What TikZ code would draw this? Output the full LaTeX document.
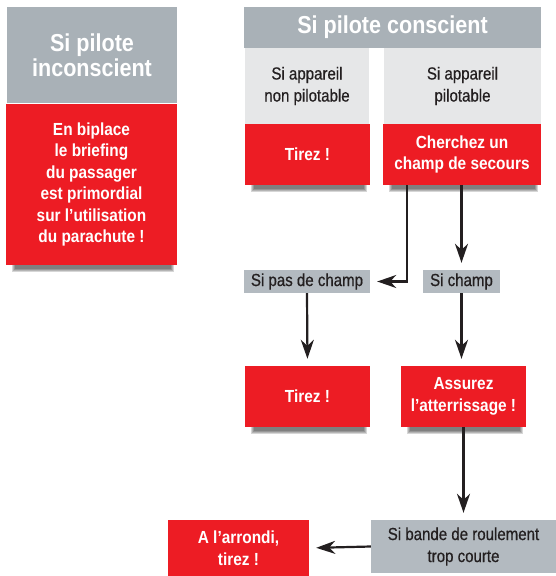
\documentclass[tikz,border=0pt]{standalone}
\usepackage{fontspec}
\setmainfont{Liberation Sans}[FakeStretch=0.88]
\newfontfamily\labelfont{Liberation Sans}[FakeStretch=0.86,FakeBold=0.6]
\usetikzlibrary{arrows.meta,backgrounds,calc}
\definecolor{cred}{HTML}{ED1C24}
\definecolor{cgray}{HTML}{A9B1B7}
\definecolor{clight}{HTML}{E6E7E8}
\definecolor{clabel}{HTML}{B3BAC0}
\definecolor{ctext}{HTML}{231F20}
\tikzset{
  box/.style={inner sep=0pt, align=center, anchor=center},
  redbox/.style={box, fill=cred, text=white, font=\bfseries\fontsize{17.5}{21.5}\selectfont},
  titlebox/.style={box, fill=cgray, text=white, font=\bfseries\fontsize{24.5}{25}\selectfont},
  lightbox/.style={box, fill=clight, text=ctext, font=\labelfont\fontsize{17.5}{22}\selectfont},
  labelbox/.style={box, fill=clabel, text=ctext, font=\labelfont\fontsize{17.5}{22}\selectfont},
  conn/.style={line width=2.2pt, ctext, -{Stealth[length=19pt,width=13pt,inset=6pt]}, shorten >=7pt},
  shade/.style={fill=black, opacity=0.16},
}
\newcommand{\dropshade}[1]{%
  \foreach \k in {0,1,2,3}{%
    \fill[shade] ($(#1.south west)+(6+\k,-4)$) rectangle ($(#1.south east)+(-3-\k,7-\k)$);}}
\begin{document}
\begin{tikzpicture}[x=1pt,y=-1pt]
\useasboundingbox (0,0) rectangle (556,576);
% left column
\node[titlebox, minimum width=170pt, minimum height=96pt] (lt) at (92,55) {Si pilote\\inconscient};
\node[redbox, minimum width=171pt, minimum height=161pt] (lr) at (91.5,184.5) {En biplace\\le briefing\\du passager\\est primordial\\sur l’utilisation\\du parachute !};
% right header
\node[titlebox, minimum width=297pt, minimum height=41pt] (hd) at (392.5,27.5) {Si pilote conscient};
\node[lightbox, minimum width=124pt, minimum height=76pt] (np) at (307,86) {Si appareil\\non pilotable};
\node[redbox, minimum width=125pt, minimum height=61pt] (t1) at (307.5,154.5) {Tirez !};
\node[lightbox, minimum width=157pt, minimum height=76pt] (p) at (462.5,86) {Si appareil\\pilotable};
\node[redbox, minimum width=158pt, minimum height=61pt] (ch) at (462,154.5) {Cherchez un\\champ de secours};
% labels
\node[labelbox, minimum width=126pt, minimum height=23pt] (pc) at (307,281.5) {Si pas de champ};
\node[labelbox, minimum width=77pt, minimum height=23pt] (sc) at (461.5,281.5) {Si champ};
% actions
\node[redbox, minimum width=125pt, minimum height=61pt] (t2) at (307.5,396.5) {Tirez !};
\node[redbox, minimum width=125pt, minimum height=61pt] (as) at (463.5,396.5) {Assurez\\l’atterrissage !};
\node[labelbox, minimum width=185pt, minimum height=53pt] (bd) at (463.5,546.5) {Si bande de roulement\\trop courte};
\node[redbox, minimum width=141pt, minimum height=56pt] (ar) at (238.5,548) {A l’arrondi,\\tirez !};
% shadows
\begin{scope}[on background layer]
\dropshade{lr}
\dropshade{t1}
\dropshade{ch}
\dropshade{t2}
\dropshade{as}
\end{scope}
% connectors
\coordinate (c1) at (407,281.5);
\draw[conn] (ch.south -| c1) -- (c1) -- (pc.east);
\draw[conn] (ch.south -| sc.north) -- (sc.north);
\draw[conn] (pc.south) -- (t2.north);
\draw[conn] (sc.south) -- (sc.south |- as.north);
\draw[conn] (as.south -| bd.north) -- (bd.north);
\draw[conn] (bd.west) -- (ar.east);
\end{tikzpicture}
\end{document}
